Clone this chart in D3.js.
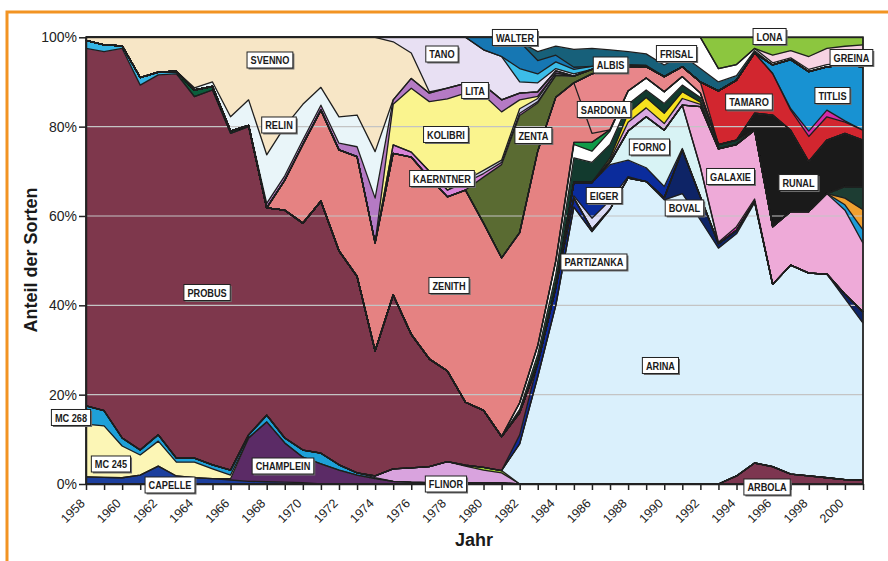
<!DOCTYPE html>
<html><head><meta charset="utf-8">
<script src="https://cdn.jsdelivr.net/npm/d3@7"></script>
<style>body{margin:0;background:#fff}svg{display:block}</style>
</head><body>
<svg id="c" width="888" height="561"></svg>
<script>
const years = d3.range(1958, 2002);
// shares in % per year 1958..2001, stacked bottom -> top
const ARBOLA    =[0,0,0,0,0,0,0,0,0,0, 0,0,0,0,0,0,0,0,0,0, 0,0,0,0,0,0,0,0,0,0, 0,0,0,0,0,0,1.8,4.7,3.9,2.2, 1.8,1.4,1.0,0.9];
const CAPELLE   =[1.6,1.5,1.4,2.0,4.0,1.8,1.4,1.2,0.9,0.6, 0.5,0.4,0.3,0,0,0,0,0,0,0, 0,0,0,0,0,0,0,0,0,0, 0,0,0,0,0,0,0,0,0,0, 0,0,0,0];
const CHAMPLEIN =[0,0,0,0,0,0,0,0,0.3,9.7, 13.4,8.8,5.7,4.5,3.1,2.0,1.2,0.6,0.4,0.3, 0.3,0.3,0.3,0.3,0,0,0,0,0,0, 0,0,0,0,0,0,0,0,0,0, 0,0,0,0];
const MC245     =[11.8,11.5,7.1,4.5,5.6,3.1,3.5,2.2,0.8,0, 0,0,0,0,0,0,0,0,0,0, 0,0,0,0,0,0,0,0,0,0, 0,0,0,0,0,0,0,0,0,0, 0,0,0,0];
const MC268     =[4.1,3.4,1.8,1.1,1.4,0.9,0.9,0.9,1.1,0.7, 1.5,1.1,1.6,2.4,1.2,0.5,0.2,0,0,0, 0,0,0,0,0,0,0,0,0,0, 0,0,0,0,0,0,0,0,0,0, 0,0,0,0];
const FLINOR    =[0,0,0,0,0,0,0,0,0,0, 0,0,0,0,0,0,0.4,2.8,3.2,3.6, 4.7,3.7,2.8,2.2,0,0,0,0,0,0, 0,0,0,0,0,0,0,0,0,0, 0,0,0,0];
const LIME      =[0,0,0,0,0,0,0,0,0,0, 0,0,0,0,0,0,0,0,0,0, 0,0.2,0.6,0.5,0,0,0,0,0,0, 0,0,0,0,0,0,0,0,0,0, 0,0,0,0];
const ARINA     =[0,0,0,0,0,0,0,0,0,0, 0,0,0,0,0,0,0,0,0,0, 0,0,0,0,9,24,40,62,56.5,61.5, 68.5,67.7,63.6,65,59.1,52.8,54.2,58.3,40.8,46.8, 45.4,45.6,40.5,35.1];
const BOVAL     =[0,0,0,0,0,0,0,0,0,0, 0,0,0,0,0,0,0,0,0,0, 0,0,0,0,0,0,0,0,0,0, 0,0,0.5,9.8,5.2,1.0,0.8,0.3,0,0, 0,0,1.0,2.5];
const PARTIZANKA=[0,0,0,0,0,0,0,0,0,0, 0,0,0,0,0,0,0,0,0,0, 0,0,0,0,2,3,4,2,0.5,0, 0,0,0,0,0,0,0,0,0,0, 0,0,0,0];
const PROBUS    =[80.0,80.4,87.2,81.7,80.6,86.0,80.9,83.9,75.4,69.0, 46.4,51.0,50.8,56.4,47.9,44.0,28.0,38.9,29.9,24.1, 20.3,14.1,12.8,7.6,5,0,0,0,0,0, 0,0,0,0,0,0,0,0,0,0, 0,0,0,0];
const CYAN2     =[1.8,1.5,0.6,1.7,0.6,0.3,0,0,0,0, 0,0,0,0,0,0,0,0,0,0, 0,0,0,0,0,0,0,0,0,0, 0,0,0,0,0,0,0,0,0,0, 0,0,0,0];
const DKGREEN2  =[0,0,0,0,0,0.3,1.5,0.8,0.5,0.3, 0,0,0,0,0,0,0,0,0,0, 0,0,0,0,0,0,0,0,0,0, 0,0,0,0,0,0,0,0,0,0, 0,0,0,0];
const LAV       =[0,0,0,0,0,0,0,0,0,0, 0,0,0,0,0,0,0,0,0,0, 0,0,0,0,0,0,0,0.5,2.5,2, 0.3,0,0,0,0,0,0,0,0,0, 0,0,0,0];
const EIGER     =[0,0,0,0,0,0,0,0,0,0, 0,0,0,0,0,0,0,0,0,0, 0,0,0,0,0,0,0,3,8,8, 3.7,3.1,2.5,0.3,0,0,0,0,0,0, 0,0,0,0];
const FORNO     =[0,0,0,0,0,0,0,0,0,0, 0,0,0,0,0,0,0,0,0,0, 0,0,0,0,0,0,0,0,0,0.5, 6.5,11.4,12.6,9.7,6.6,0,0,0,0,0, 0,0,0,0];
const MAGENTA1  =[0,0,0,0,0,0,0,0,0,0, 0,0,0,0,0,0,0,0,0,0, 0,0,0,0,0,0,0,0,0,0, 0,0,0,0,0,0.3,0.8,0.5,0,0, 0,0,0,0];
const GALAXIE   =[0,0,0,0,0,0,0,0,0,0, 0,0,0,0,0,0,0,0,0,0, 0,0,0,0,0,0,0,0,0,0, 0,0,0,0,13.6,20.9,18.4,15.4,12.9,12, 13.8,18,18.8,15.4];
const SBLUE     =[0,0,0,0,0,0,0,0,0,0, 0,0,0,0,0,0,0,0,0,0, 0,0,0,0,0,0,0,0,0,0, 0,0,0,0,0,0,0,0,0,0, 0,0,1.2,3];
const SORANGE   =[0,0,0,0,0,0,0,0,0,0, 0,0,0,0,0,0,0,0,0,0, 0,0,0,0,0,0,0,0,0,0, 0,0,0,0,0,0,0,0,0,0, 0,0,1.5,4.5];
const SDKGREEN  =[0,0,0,0,0,0,0,0,0,0, 0,0,0,0,0,0,0,0,0,0, 0,0,0,0,0,0,0,0,0,0, 0,0,0,0,0,0,0,0,0,0, 0,0,2.6,5.2];
const LILAC     =[0,0,0,0,0,0,0,0,0,0, 0,0,0,0,0,0,0,0,0,0, 0,0,0,0,0,0,0,0,0,0.5, 2,2,1.5,1.5,0.5,0,0,0,0,0, 0,0,0,0];
const YELLOW    =[0,0,0,0,0,0,0,0,0,0, 0,0,0,0,0,0,0,0,0,0, 0,0,0,0,0,0,0,0,0,0.5, 2,2.3,2.3,1.5,0.5,0,0,0,0,0, 0,0,0,0];
const DKGREEN   =[0,0,0,0,0,0,0,0,0,0, 0,0,0,0,0,0,0,0,0,0, 0,0,0,0,0.7,2,3,5.5,4.5,3, 2,1.7,2.2,1.5,1,1,1,0,0,0, 0,0,0,0];
const WHITE1    =[0,0,0,0,0,0,0,0,0,0, 0,0,0,0,0,0,0,0,0,0, 0,0,0,0,1.5,2,3,3,2.5,3, 3,2.7,2.6,1.9,1,0,0,0,0,0, 0,0,0,0];
const GREENSMALL=[0,0,0,0,0,0,0,0,0,0, 0,0,0,0,0,0,0,0,0,0, 0,0,0,0,0,0,0,0.5,2,0.3, 0,0,0,0,0,0,0,0,0,0, 0,0,0,0];
const RUNAL     =[0,0,0,0,0,0,0,0,0,0, 0,0,0,0,0,0,0,0,0,0, 0,0,0,0,0,0,0,0,0,0, 0,0,0,0,0,0,0,3.8,25,18.2, 11.2,12,11.9,10.4];
const ZENITH    =[0,0,0,0,0,0,0,0,0,0, 0,6.7,17.6,20.4,22.6,26.8,24.2,31.7,39.7,40.5, 39,47.5,41.9,40,38.1,43.5,36.6,13.3,2,0, 0,0,0,0,0,0,0,0,0,0, 0,0,0,0];
const SARDONA   =[0,0,0,0,0,0,0,0,0,0, 0,0,0,0,0,0,0,0,0,0, 0,0,0,0,0,0,0,0,13.3,13.4, 5.5,2.5,3.4,2.2,2.5,0,0,0,0,0, 0,0,0,0];
const TAMARO    =[0,0,0,0,0,0,0,0,0,0, 0,0,0,0,0,0,0,0,0,0, 0,0,0,0,0,0,0,0,0,0, 0,0,0,0,0,12,13.4,13.5,9.3,4.5, 5.6,5.2,2.5,2.2];
const MAGENTA2  =[0,0,0,0,0,0,0,0,0,0, 0,0,0,0,0,0,0,0,0,0, 0,0,0,0,0,0,0,0,0,0, 0,0,0,0,0,0,0,0,0,0.3, 1.2,1.5,0.3,0];
const TITLIS    =[0,0,0,0,0,0,0,0,0,0, 0,0,0,0,0,0,0,0,0,0, 0,0,0,0,0,0,0,0,0,0, 0,0,0,0,0,0,0,0,1.9,11, 13.3,9.7,12.5,14.2];
const ZENTA     =[0,0,0,0,0,0,0,0,0,0, 0,0,0,0,0,0,0,0,0,0, 0,0,10.3,20.9,26.2,10.8,4.9,1.5,1,0.5, 0,0,0,0,0,0,0,0,0,0, 0,0,0,0];
const KAERNTNER =[0,0,0,0,0,0,0,0,0,0, 0,0,0,0,0,0,0,1.9,1.1,1.5, 1.5,1.7,0.8,0.5,0.5,0.3,0,0,0,0, 0,0,0,0,0,0,0,0,0,0, 0,0,0,0];
const LAVTHIN   =[0,0,0,0,0,0,0,0,0,0, 0,0,0,0,0,0,0,0,0,0, 0,0.5,0.7,0.5,1,0.7,0.5,0,0,0, 0,0,0,0,0,0,0,0,0,0, 0,0,0,0];
const KOLIBRI   =[0,0,0,0,0,0,0,0,0,0, 0,0,0,0,0,0,0,9.1,14.3,15.6, 20.4,19.5,16.9,10.8,2,0.5,0,0,0,0, 0,0,0,0,0,0,0,0,0,0, 0,0,0,0];
const LITA      =[0,0,0,0,0,0,0,0,0,0, 1,1,1,1.1,1.5,2.2,10,1,2.2,1.9, 2.4,2.2,2.2,2.7,1.5,1,0.5,0,0,0, 0,0,0,0,0,0,0,0,0,0, 0,0,0,0];
const RELIN     =[0,0,0,0,0,0,0.5,1.0,3.2,5.7, 10.9,11,8,4,5.9,7.1,10.4,0,0,0, 0,0,0,0,0,0,0,0,0,0, 0,0,0,0,0,0,0,0,0,0, 0,0,0,0];
const SVENNO    =[0.7,1.7,1.9,9.0,7.8,7.6,11.3,10.0,17.8,14.0, 26.3,20,15,11.2,17.8,17.4,25.6,13,5.7,0.3, 0,0,0,0,0,0,0,0,0,0, 0,0,0,0,0,0,0,0,0,0, 0,0,0,0];
const TANO      =[0,0,0,0,0,0,0,0,0,0, 0,0,0,0,0,0,0,1,3.5,12.2, 11.4,10.3,7.9,9.7,2.5,2,0.5,0.5,0,0, 0,0,0,0,0,0,0,0,0,0, 0,0,0,0];
const CYAN      =[0,0,0,0,0,0,0,0,0,0, 0,0,0,0,0,0,0,0,0,0, 0,0,0,0,3,2,1.5,1,0.7,0.5, 0.3,0.3,0,0,0,0,0,0,0,0, 0,0,0,0];
const WALTER    =[0,0,0,0,0,0,0,0,0,0, 0,0,0,0,0,0,0,0,0,0, 0,0,2.8,4.3,6,3,1.5,0.5,0,0, 0,0,0,0,0,0,0,0,0,0, 0,0,0,0];
const ALBIS     =[0,0,0,0,0,0,0,0,0,0, 0,0,0,0,0,0,0,0,0,0, 0,0,0,0,0,2,2,4,4,3.5, 3,2.6,2.6,2.6,3,2,1,0.5,0,0, 0,0,0,0];
const FRISAL    =[0,0,0,0,0,0,0,0,0,0, 0,0,0,0,0,0,0,0,0,0, 0,0,0,0,0,3.2,2,2.7,2.5,2.8, 3.2,3.7,6.2,4,7,3,2.5,0.5,0.5,0.4, 0.5,0.5,0.4,0.4];
const GREINA    =[0,0,0,0,0,0,0,0,0,0, 0,0,0,0,0,0,0,0,0,0, 0,0,0,0,0,0,0,0,0,0, 0,0,0,0,0,0,0,0,1.7,1.6, 2.9,3.6,3.8,4.5];
const LONA      =[0,0,0,0,0,0,0,0,0,0, 0,0,0,0,0,0,0,0,0,0, 0,0,0,0,0,0,0,0,0,0, 0,0,0,0,0,7,6.1,2.5,4,3, 4.3,2.5,2,1.7];

const yTicks = [0, 20, 40, 60, 80, 100];
const xLabelYears = d3.range(1958, 2002, 2);

const layers = [
 ["ARBOLA",ARBOLA,"#7d3650"],["CAPELLE",CAPELLE,"#1c3f9e"],["CHAMPLEIN",CHAMPLEIN,"#5b2b66"],
 ["MC 245",MC245,"#fcf6b6"],["MC 268",MC268,"#1ea0d8"],["FLINOR",FLINOR,"#d9a3de"],["u_lime",LIME,"#9acd32"],
 ["ARINA",ARINA,"#daf0fc"],["BOVAL",BOVAL,"#0e2466"],["PARTIZANKA",PARTIZANKA,"#10299a"],
 ["PROBUS",PROBUS,"#7e374c"],["u_cyan2",CYAN2,"#35b5e5"],["u_dkgreen2",DKGREEN2,"#0b5e3c"],
 ["u_lav",LAV,"#dcdcf6"],["EIGER",EIGER,"#0b2c9c"],["FORNO",FORNO,"#d8f3f5"],["u_mag1",MAGENTA1,"#d02aa8"],
 ["GALAXIE",GALAXIE,"#eeaad8"],["u_sblue",SBLUE,"#1b9bd8"],["u_sorange",SORANGE,"#f0a030"],["u_sdkgreen",SDKGREEN,"#1d3d33"],
 ["u_lilac",LILAC,"#dba8e3"],["u_yellow",YELLOW,"#f8e21e"],["u_dkgreen",DKGREEN,"#123a2e"],["u_white",WHITE1,"#ffffff"],
 ["u_green",GREENSMALL,"#0f9a48"],["RUNAL",RUNAL,"#1a1a1a"],["ZENITH",ZENITH,"#e58282"],["SARDONA",SARDONA,"#e8868a"],
 ["TAMARO",TAMARO,"#d2262f"],["u_mag2",MAGENTA2,"#d52aa6"],["TITLIS",TITLIS,"#1892d2"],["ZENTA",ZENTA,"#5a6b32"],
 ["KAERNTNER",KAERNTNER,"#d884d8"],["u_lavthin",LAVTHIN,"#cfcff0"],["KOLIBRI",KOLIBRI,"#faf48e"],["LITA",LITA,"#b57ac4"],
 ["RELIN",RELIN,"#e9f5f9"],["SVENNO",SVENNO,"#f7e6c6"],["TANO",TANO,"#e8e0f3"],["u_cyan",CYAN,"#3cbde8"],
 ["WALTER",WALTER,"#1677b3"],["ALBIS",ALBIS,"#17607a"],["FRISAL",FRISAL,"#ffffff"],["GREINA",GREINA,"#f7d3e3"],["LONA",LONA,"#8cc63f"]
];
const keys = layers.map(d => d[0]);
const color = Object.fromEntries(layers.map(d => [d[0], d[2]]));
const rows = years.map((yr, i) => { const r = {year: yr}; layers.forEach(l => r[l[0]] = l[1][i]); return r; });

// label anchor positions (year, percent)
const labelNames = ["SVENNO","RELIN","TANO","WALTER","LITA","KOLIBRI","KAERNTNER","ZENTA","ZENITH","PROBUS","ALBIS","SARDONA","EIGER","PARTIZANKA","FRISAL","LONA","GREINA","TAMARO","TITLIS","FORNO","GALAXIE","RUNAL","BOVAL","ARINA","MC 268","MC 245","CAPELLE","CHAMPLEIN","FLINOR","ARBOLA"];
const labelYear = [1968.18,1968.68,1977.70,1981.74,1979.53,1977.92,1977.70,1982.76,1978.09,1964.70,1987.03,1986.67,1986.67,1986.11,1990.68,1995.83,2000.36,1994.69,1999.31,1989.18,1993.67,1997.43,1991.12,1989.79,1957.17,1959.38,1962.65,1968.90,1977.92,1995.69];
const labelPct  = [94.92,80.37,96.26,99.96,88.09,78.24,68.39,78.02,44.44,42.87,93.80,83.84,64.59,49.70,96.37,100.18,95.48,85.52,86.97,75.44,68.84,67.49,61.79,26.53,14.89,4.48,-0.22,4.03,0.00,-0.67];

const svg = d3.select("#c");
const x = d3.scaleLinear().domain([1958, 2001]).range([86, 863]);
const y = d3.scaleLinear().domain([0, 100]).range([484, 37.3]);

// orange frame
svg.append("path").attr("d", "M7,561V12H888").attr("fill","none").attr("stroke","#f29423").attr("stroke-width",3);

const series = d3.stack().keys(keys)(rows);
const area = d3.area().x(d => x(d.data.year)).y0(d => y(d[0])).y1(d => y(d[1]));
const line = d3.line().x(d => x(d.data.year)).y(d => y(d[1]));

svg.append("g").selectAll("path").data(series).join("path")
  .attr("d", area).attr("fill", d => color[d.key]).attr("stroke", d => color[d.key]).attr("stroke-width", 0.4);

// grid
svg.append("g").selectAll("line").data(yTicks.filter(t => t > 0 && t < 100)).join("line")
  .attr("x1", x(1958)).attr("x2", x(2001)).attr("y1", d => y(d)).attr("y2", d => y(d))
  .attr("stroke", "#c4c4c4").attr("stroke-width", 1.2);

// boundaries
svg.append("g").selectAll("path").data(series).join("path")
  .attr("d", line).attr("fill","none").attr("stroke","#1e1e1e").attr("stroke-width",1.3).attr("stroke-linejoin","round");

// frame
svg.append("rect").attr("x", x(1958)).attr("y", y(100)).attr("width", x(2001)-x(1958)).attr("height", y(0)-y(100))
  .attr("fill","none").attr("stroke","#222").attr("stroke-width",1.8);

// axes
const yAxis = svg.append("g").attr("transform", `translate(${x(1958)},0)`)
  .call(d3.axisLeft(y).tickValues(yTicks).tickFormat(d => d + "%").tickSize(7).tickSizeOuter(0).tickPadding(2));
yAxis.selectAll("text").attr("font-family","'Liberation Sans',Arial,sans-serif").attr("font-size",14).attr("fill","#222");
yAxis.selectAll("line,path").attr("stroke","#222").attr("stroke-width",1.5);

const xAxis = svg.append("g").attr("transform", `translate(0,${y(0)})`)
  .call(d3.axisBottom(x).tickValues(years).tickFormat(d => xLabelYears.includes(d) ? d : "").tickSize(6).tickSizeOuter(0));
xAxis.selectAll("line,path").attr("stroke","#222").attr("stroke-width",1.5);
xAxis.selectAll("text").attr("font-family","'Liberation Sans',Arial,sans-serif").attr("font-size",12.5).attr("fill","#222")
  .attr("text-anchor","end").attr("x",0).attr("y",0).attr("dy","0.35em").attr("transform","translate(-4,17) rotate(-45)");

svg.append("text").attr("transform","translate(37,260) rotate(-90)").attr("text-anchor","middle")
  .attr("font-family","'Liberation Sans',Arial,sans-serif").attr("font-weight","bold").attr("font-size",18).attr("fill","#1a1a1a")
  .text("Anteil der Sorten");
svg.append("text").attr("x",474).attr("y",546).attr("text-anchor","middle")
  .attr("font-family","'Liberation Sans',Arial,sans-serif").attr("font-weight","bold").attr("font-size",18).attr("fill","#1a1a1a")
  .text("Jahr");

// labels (horizontally condensed bold text in white boxes with shadow)
const sx = 0.8;
const lg = svg.append("g");
labelNames.forEach((name, i) => {
  const cx = x(labelYear[i]), cy = y(labelPct[i]);
  const g = lg.append("g").attr("transform", `translate(${cx},${cy})`);
  const t = g.append("text").attr("x", 0).attr("y", 0).attr("dy","0.36em").attr("text-anchor","middle")
    .attr("transform", `scale(${sx},1)`)
    .attr("font-family","'Liberation Sans','DejaVu Sans',sans-serif")
    .attr("font-weight","bold").attr("font-size",11.5).attr("fill","#1a1a1a").text(name);
  const w = t.node().getComputedTextLength() * sx + 7, h = 16;
  g.insert("rect","text").attr("x", -w/2 + 1.5).attr("y", -h/2 + 1.5).attr("width", w).attr("height", h).attr("fill","#6e6e6e");
  g.insert("rect","text").attr("x", -w/2).attr("y", -h/2).attr("width", w).attr("height", h).attr("fill","#fff").attr("stroke","#222").attr("stroke-width",1);
});
</script>
</body></html>
